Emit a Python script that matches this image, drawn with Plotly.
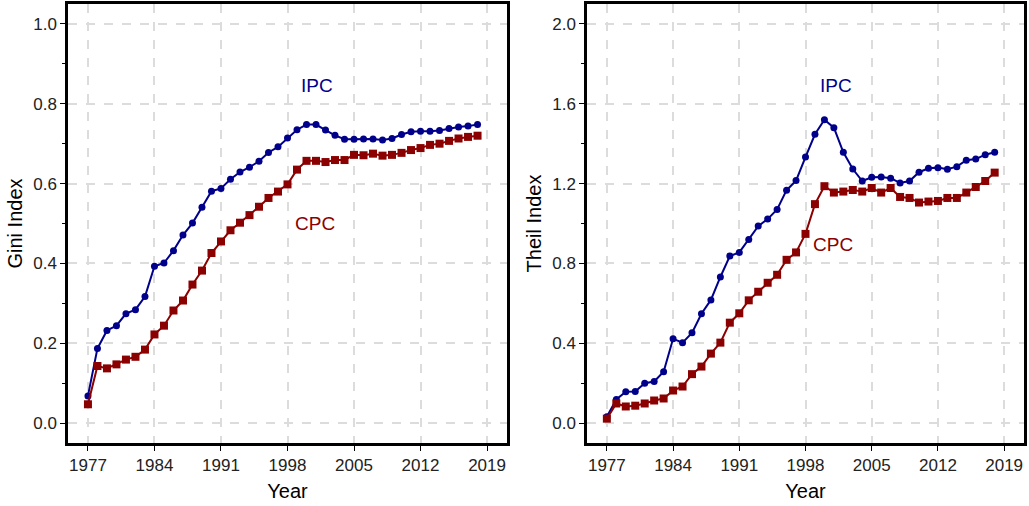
import plotly.graph_objects as go

years = [1977, 1978, 1979, 1980, 1981, 1982, 1983, 1984, 1985, 1986, 1987, 1988, 1989, 1990,
         1991, 1992, 1993, 1994, 1995, 1996, 1997, 1998, 1999, 2000, 2001, 2002, 2003, 2004,
         2005, 2006, 2007, 2008, 2009, 2010, 2011, 2012, 2013, 2014, 2015, 2016, 2017, 2018]

gini_ipc = [0.068, 0.187, 0.232, 0.244, 0.274, 0.284, 0.317, 0.393, 0.401, 0.432, 0.471, 0.501,
            0.541, 0.581, 0.588, 0.611, 0.629, 0.641, 0.656, 0.678, 0.692, 0.714, 0.735, 0.748,
            0.748, 0.734, 0.721, 0.711, 0.711, 0.712, 0.712, 0.709, 0.713, 0.723, 0.730, 0.731,
            0.731, 0.733, 0.738, 0.742, 0.744, 0.748]
gini_cpc = [0.047, 0.143, 0.137, 0.147, 0.159, 0.166, 0.184, 0.222, 0.244, 0.282, 0.307, 0.347,
            0.382, 0.426, 0.455, 0.483, 0.502, 0.521, 0.542, 0.564, 0.580, 0.598, 0.635, 0.657,
            0.657, 0.654, 0.659, 0.659, 0.672, 0.671, 0.675, 0.670, 0.672, 0.677, 0.684, 0.689,
            0.697, 0.700, 0.707, 0.713, 0.717, 0.720]

theil_ipc = [0.032, 0.118, 0.157, 0.158, 0.200, 0.208, 0.257, 0.422, 0.403, 0.452, 0.548, 0.617,
             0.732, 0.837, 0.855, 0.920, 0.987, 1.022, 1.070, 1.167, 1.215, 1.333, 1.447, 1.520,
             1.480, 1.357, 1.273, 1.213, 1.232, 1.233, 1.227, 1.203, 1.213, 1.257, 1.277, 1.280,
             1.272, 1.285, 1.317, 1.323, 1.345, 1.357]
theil_cpc = [0.022, 0.098, 0.083, 0.087, 0.098, 0.113, 0.123, 0.163, 0.183, 0.245, 0.283, 0.348,
             0.403, 0.503, 0.550, 0.615, 0.658, 0.703, 0.743, 0.818, 0.855, 0.948, 1.097, 1.187,
             1.155, 1.160, 1.168, 1.160, 1.178, 1.155, 1.178, 1.133, 1.128, 1.105, 1.110, 1.113,
             1.128, 1.128, 1.155, 1.183, 1.213, 1.255]

x_ticks = [1977, 1984, 1991, 1998, 2005, 2012, 2019]
gini_ticks = [0.0, 0.2, 0.4, 0.6, 0.8, 1.0]
theil_ticks = [0.0, 0.4, 0.8, 1.2, 1.6, 2.0]

BLUE = "#00008B"
RED = "#8B0000"
FONT = "Liberation Sans, Arial, sans-serif"

fig = go.Figure()

def add_series(x, y, color, symbol, size, xa, ya):
    fig.add_trace(go.Scatter(x=x, y=y, mode="lines+markers", xaxis=xa, yaxis=ya,
                             line=dict(color=color, width=2),
                             marker=dict(color=color, symbol=symbol, size=size),
                             showlegend=False))

add_series(years, gini_ipc, BLUE, "circle", 7, "x", "y")
add_series(years, gini_cpc, RED, "square", 8, "x", "y")
add_series(years, theil_ipc, BLUE, "circle", 7, "x2", "y2")
add_series(years, theil_cpc, RED, "square", 8, "x2", "y2")

tickfont = dict(family=FONT, size=17, color="#222222")
titlefont = dict(family=FONT, size=20, color="#000000")

def xax(domain, anchor):
    return dict(domain=domain, anchor=anchor, range=[1974.9, 2021.1], tickvals=x_ticks,
                showline=True, linecolor="black", linewidth=2.5, mirror=True,
                ticks="outside", ticklen=5, tickwidth=1.2, tickcolor="black",
                showgrid=True, gridcolor="#dcdcdc", griddash="dash", gridwidth=1.5,
                zeroline=False, tickfont=tickfont,
                title=dict(text="Year", font=titlefont, standoff=10), automargin=False)

def yax(domain, anchor, rng, tv, minor_dt, title):
    return dict(domain=domain, anchor=anchor, range=rng, tickvals=tv, tickformat=".1f",
                showline=True, linecolor="black", linewidth=2.5, mirror=True,
                ticks="outside", ticklen=5, tickwidth=1.2, tickcolor="black",
                minor=dict(dtick=minor_dt, tick0=0, ticks="outside", ticklen=3,
                           tickcolor="black", showgrid=False),
                showgrid=True, gridcolor="#dcdcdc", griddash="dash", gridwidth=1.5,
                zeroline=False, tickfont=tickfont,
                title=dict(text=title, font=titlefont, standoff=6), automargin=False)

ydom = [1 - 443 / 506, 1 - 4 / 506]
fig.update_layout(
    width=1029, height=506,
    margin=dict(l=0, r=0, t=0, b=0),
    paper_bgcolor="white", plot_bgcolor="white",
    xaxis=xax([68 / 1029, 507 / 1029], "y"),
    yaxis=yax(ydom, "x", [-0.05, 1.05], gini_ticks, 0.1, "Gini Index"),
    xaxis2=xax([587 / 1029, 1024 / 1029], "y2"),
    yaxis2=yax(ydom, "x2", [-0.1, 2.1], theil_ticks, 0.2, "Theil Index"),
    annotations=[
        dict(x=2001.15, y=0.845, xref="x", yref="y", text="IPC", showarrow=False,
             font=dict(family=FONT, size=19, color=BLUE)),
        dict(x=2000.9, y=0.50, xref="x", yref="y", text="CPC", showarrow=False,
             font=dict(family=FONT, size=19, color=RED)),
        dict(x=2001.25, y=1.69, xref="x2", yref="y2", text="IPC", showarrow=False,
             font=dict(family=FONT, size=19, color=BLUE)),
        dict(x=2000.9, y=0.895, xref="x2", yref="y2", text="CPC", showarrow=False,
             font=dict(family=FONT, size=19, color=RED)),
    ],
)

fig.write_html("out.html", config={"displayModeBar": False},
               post_script="document.body.style.margin='0px';document.body.style.overflow='hidden';")
